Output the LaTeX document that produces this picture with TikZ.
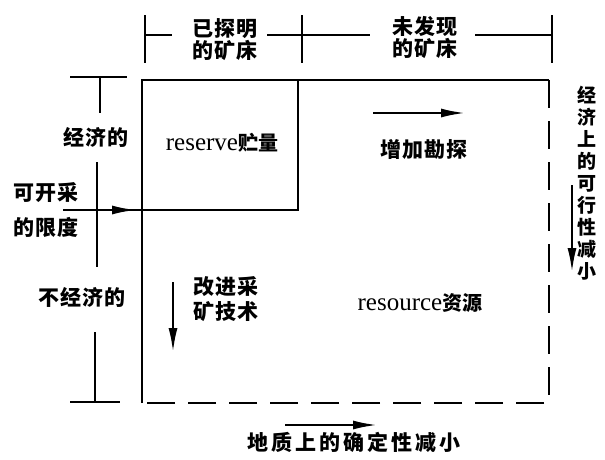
\documentclass[tikz,border=0pt]{standalone}
\usepackage{fontspec}
\setmainfont{Liberation Serif}
\newfontfamily\cjk{Noto Sans CJK SC}[LetterSpace=6]
\newfontfamily\cjkwide{Noto Sans CJK SC}[LetterSpace=14]
\newfontfamily\cjktight{Noto Sans CJK SC}
\usetikzlibrary{arrows.meta}
\begin{document}
\begin{tikzpicture}[x=1pt,y=-1pt,
  box/.style={line width=2.5pt},
  dbox/.style={line width=2.5pt, dash pattern=on 28pt off 13pt},
  dim/.style={line width=2.3pt},
  arr/.style={line width=2.2pt,-{Latex[length=24pt,width=9pt]}},
  zh/.style={font=\cjk\bfseries\fontsize{21}{22}\selectfont, inner sep=0pt, align=center},
  zhw/.style={font=\cjkwide\bfseries\fontsize{21}{22}\selectfont, inner sep=0pt},
  zhv/.style={font=\cjktight\bfseries\fontsize{19}{22}\selectfont, inner sep=0pt, align=center},
  en/.style={font=\fontsize{25}{28}\selectfont, inner sep=0pt}]
\useasboundingbox (0,0) rectangle (605,459);

% main box
\coordinate (TL) at (142,80);
\coordinate (TR) at (549,80);
\coordinate (BR) at (549,403);
\coordinate (BL) at (142,403);
\draw[box] (BL) -- (TL) -- (TR);
\draw[dbox] (TR) -- (BR) -- (BL);

% reserve box
\coordinate (RB) at (298,210);
\coordinate (RT) at (298,80);
\coordinate (RL) at (142,210);
\draw[box] (RL) -- (RB) -- (RT);

% mining limit line
\coordinate (lim) at (63,210);
\draw[dim] (lim) -- (RL);
\draw[arr] (lim) -- (136,210);

% top dimension line
\coordinate (t1a) at (145,15); \coordinate (t1b) at (145,63);
\coordinate (t2a) at (302,15); \coordinate (t2b) at (302,63);
\coordinate (t3a) at (552,15); \coordinate (t3b) at (552,63);
\draw[dim] (t1a) -- (t1b);
\draw[dim] (t2a) -- (t2b);
\draw[dim] (t3a) -- (t3b);
\coordinate (d1) at (145,35); \coordinate (d2) at (172,35);
\coordinate (d3) at (267,35); \coordinate (d4) at (302,35);
\coordinate (d5) at (370,35); \coordinate (d6) at (475,35);
\coordinate (d7) at (552,35);
\draw[dim] (d1) -- (d2);
\draw[dim] (d3) -- (d4) -- (d5);
\draw[dim] (d6) -- (d7);
\node[zh] (known) at (225,40) {已探明\\的矿床};
\node[zh] (unknown) at (425,37) {未发现\\的矿床};

% left dimension line
\coordinate (l1a) at (70,77); \coordinate (l1b) at (127,77);
\coordinate (l2a) at (70,402); \coordinate (l2b) at (120,402);
\draw[dim] (l1a) -- (l1b);
\draw[dim] (l2a) -- (l2b);
\coordinate (v1) at (100,77); \coordinate (v2) at (100,113);
\coordinate (v3) at (97,162); \coordinate (v4) at (97,267);
\coordinate (v5) at (95,332); \coordinate (v6) at (95,402);
\draw[dim] (v1) -- (v2);
\draw[dim] (v3) -- (v4);
\draw[dim] (v5) -- (v6);
\node[zh] (econ) at (96,137) {经济的};
\node[zh] (lim1) at (46,193) {可开采};
\node[zh] (lim2) at (46,227) {的限度};
\node[zh] (unecon) at (82,297) {不经济的};

% inner labels
\node[en] (reserve) at (222,143) {reserve{\cjktight\bfseries\fontsize{20}{22}\selectfont 贮量}};
\node[en] (resource) at (420,303) {resource{\cjktight\bfseries\fontsize{20}{22}\selectfont 资源}};

% exploration arrow
\coordinate (e1) at (373,113); \coordinate (e2) at (465,113);
\draw[arr] (e1) -- (e2);
\node[zh] (explore) at (424,149) {增加勘探};

% mining technology arrow
\coordinate (m1) at (173,282); \coordinate (m2) at (173,352);
\draw[arr] (m1) -- (m2);
\node[zh] (tech) at (226,299) {改进采\\[3pt]矿技术};

% geological arrow
\coordinate (g1) at (285,425); \coordinate (g2) at (377,425);
\draw[arr] (g1) -- (g2);
\node[zhw] (geo) at (354,442) {地质上的确定性减小};

% economic feasibility arrow
\coordinate (f1) at (572,185); \coordinate (f2) at (572,272);
\draw[arr] (f1) -- (f2);
\node[zhv] (feas) at (587,183) {经\\济\\上\\的\\可\\行\\性\\减\\小};
\end{tikzpicture}
\end{document}
